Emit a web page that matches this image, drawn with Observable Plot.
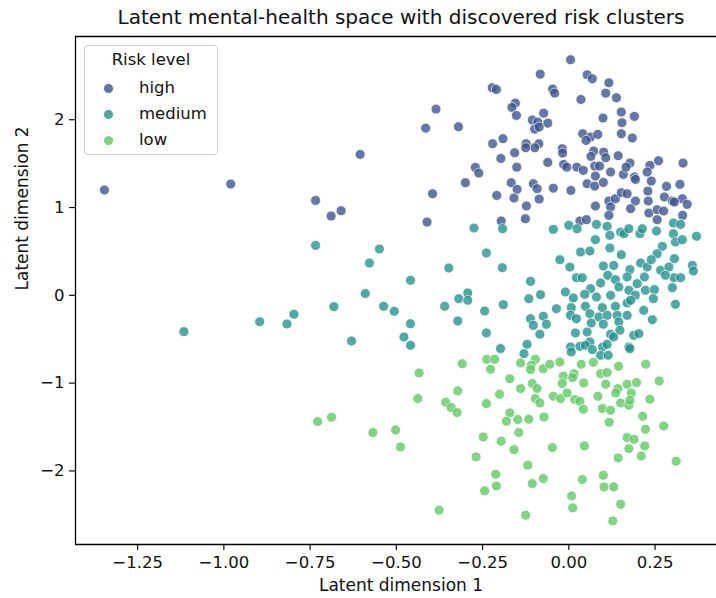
<!DOCTYPE html>
<html>
<head>
<meta charset="utf-8">
<script src="https://cdn.jsdelivr.net/npm/d3@7"></script>
<script src="https://cdn.jsdelivr.net/npm/@observablehq/plot@0.6"></script>
<style>
  html, body { margin: 0; padding: 0; background: white; overflow: hidden; }
  body { width: 716px; height: 598px; position: relative; font-family: "DejaVu Sans", sans-serif; color: #000; }
  #title { position: relative; height: 30px; }
  #title span { position: absolute; left: 401px; transform: translateX(-50%); white-space: nowrap; font-size: 20px; line-height: 28px; top: 3px; color: #111; }
  #legend { position: absolute; left: 84px; top: 45px; width: 132px; height: 108px; border: 1px solid #d0d0d0; border-radius: 4px; background: rgba(255,255,255,0.8); }
  #legend .ttl { position: absolute; left: 0; width: 132px; text-align: center; top: 4px; font-size: 16.5px; line-height: 20px; color: #111; }
  #legend .item { position: absolute; left: 0; height: 20px; width: 132px; }
  #legend .dot { position: absolute; left: 18px; top: 5px; width: 9px; height: 9px; border-radius: 50%; border: 0.8px solid white; opacity: 0.8; }
  #legend .lab { position: absolute; left: 54px; top: 0; font-size: 16.5px; line-height: 20px; white-space: nowrap; color: #111; }
</style>
</head>
<body>
<div id="title"><span>Latent mental-health space with discovered risk clusters</span></div>
<div id="chart"></div>
<div id="legend"></div>
<script>
const riskLevels = ["high", "medium", "low"];
const riskColors = ["#3b528b", "#21918c", "#5ec962"];
const xTicks = [-1.25, -1.0, -0.75, -0.5, -0.25, 0, 0.25];
const yTicks = [-2, -1, 0, 1, 2];
const xDomain = [-1.430, 0.428];
const yDomain = [-2.838, 2.948];
const xLabel = "Latent dimension 1";
const yLabel = "Latent dimension 2";

const highPoints = [
[-1.346,1.199],[-0.980,1.267],[-0.734,1.081],[-0.689,0.903],[-0.660,0.964],[-0.605,1.605],
[0.005,2.683],[-0.083,2.519],[0.053,2.512],[0.068,2.467],[0.116,2.421],[-0.222,2.364],[-0.210,2.345],[-0.047,2.349],[-0.041,2.303],[0.107,2.303],[0.138,2.250],[0.035,2.231],[-0.385,2.121],[-0.155,2.189],[-0.165,2.140],[-0.152,2.049],[0.152,2.087],[0.190,2.038],[0.154,1.966],[0.099,2.019],[-0.073,2.075],[-0.106,1.996],[-0.090,1.973],[-0.061,1.961],[-0.099,1.893],[-0.086,1.916],[-0.415,1.904],[-0.320,1.920],[0.040,1.841],[0.063,1.802],[0.084,1.833],[0.050,1.764],[0.152,1.841],[0.184,1.791],[-0.191,1.784],[-0.221,1.727],[-0.124,1.727],[-0.087,1.727],[-0.099,1.681],[-0.125,1.681],[-0.019,1.670],[-0.018,1.620],[0.072,1.643],[0.101,1.631],[-0.197,1.559],[-0.157,1.624],[0.064,1.582],[0.107,1.567],[0.143,1.590],[-0.061,1.514],[-0.015,1.491],[-0.006,1.460],[0.023,1.460],[0.042,1.423],[-0.151,1.460],[-0.271,1.457],[-0.261,1.392],[0.075,1.472],[0.089,1.472],[0.121,1.404],[0.158,1.377],[0.177,1.506],[0.166,1.460],[0.190,1.347],[0.193,1.320],[0.077,1.358],[0.053,1.271],[0.075,1.244],[0.100,1.286],[0.235,1.480],[0.260,1.533],[0.227,1.404],[0.239,1.301],[0.331,1.506],[0.283,1.241],[0.322,1.264],[-0.300,1.283],[-0.167,1.283],[-0.103,1.271],[-0.092,1.215],[-0.150,1.207],[-0.045,1.221],[0.006,1.195],[-0.395,1.157],[-0.209,1.138],[-0.159,1.108],[-0.086,1.096],[-0.123,1.017],[0.077,1.017],[0.116,1.074],[0.135,1.100],[0.152,1.169],[0.169,1.157],[0.193,1.074],[0.229,1.187],[0.230,1.074],[0.277,1.119],[0.300,1.074],[0.329,1.100],[0.343,1.036],[0.121,1.005],
[-0.411,0.834],[-0.196,0.846],[-0.126,0.873],[0.179,0.987],[0.232,0.937],[0.256,0.975],[0.275,0.960],[0.306,1.062],[0.330,0.911],[0.116,0.911],[0.032,0.846],[0.051,0.862],[0.256,0.862]
];

const mediumPoints = [
[-0.734,0.569],[-0.549,0.527],[-0.578,0.368],[-0.590,0.020],[-0.681,-0.129],[-0.797,-0.216],[-0.817,-0.326],[-0.896,-0.300],[-1.116,-0.414],[-0.537,-0.125],[-0.506,-0.182],[-0.630,-0.520],
[-0.275,0.766],[-0.192,0.759],[-0.045,0.751],[0.000,0.797],[0.024,0.759],[0.080,0.808],[0.111,0.785],[0.119,0.683],[0.150,0.721],[0.160,0.702],[0.174,0.759],[0.206,0.702],[0.213,0.759],[0.254,0.732],[0.303,0.823],[0.303,0.702],[0.309,0.607],[0.329,0.634],[0.370,0.672],[0.324,0.808],[0.077,0.634],[-0.239,0.482],[0.034,0.493],[0.061,0.504],[0.119,0.539],[0.152,0.463],[0.271,0.558],[0.256,0.474],[-0.026,0.406],[0.306,0.418],[0.358,0.341],[0.361,0.277],[-0.348,0.311],[-0.193,0.315],[0.003,0.322],[0.100,0.334],[0.130,0.341],[0.177,0.293],[0.208,0.368],[0.227,0.322],[0.239,0.406],[0.266,0.285],[0.290,0.322],[0.305,0.201],[0.324,0.201],[0.280,0.228],[-0.459,0.171],[-0.111,0.159],[0.022,0.201],[0.039,0.201],[0.113,0.228],[0.135,0.178],[0.169,0.209],[0.198,0.133],[0.219,0.209],[0.092,0.140],[0.145,0.095],[0.063,0.076],[-0.293,0.027],[-0.319,-0.038],[-0.293,-0.057],[-0.082,0.008],[-0.010,0.038],[0.046,0.011],[0.080,-0.019],[0.121,0.000],[0.174,0.057],[0.193,0.000],[0.222,0.057],[0.248,0.065],[0.245,-0.038],[0.300,0.088],[-0.116,-0.038],[0.013,-0.030],[-0.360,-0.125],[-0.244,-0.179],[-0.190,-0.106],[-0.036,-0.152],[0.007,-0.140],[0.048,-0.125],[0.097,-0.140],[0.135,-0.125],[0.169,-0.087],[0.179,-0.057],[0.217,-0.171],[0.309,-0.102],[-0.322,-0.292],[-0.459,-0.323],[-0.111,-0.266],[-0.103,-0.342],[-0.074,-0.239],[-0.065,-0.330],[0.005,-0.228],[0.022,-0.266],[0.061,-0.209],[0.065,-0.315],[0.087,-0.247],[0.111,-0.228],[0.140,-0.228],[0.169,-0.228],[0.100,-0.330],[0.145,-0.304],[0.242,-0.277],[-0.239,-0.429],[-0.478,-0.474],[-0.459,-0.569],[-0.084,-0.444],[0.019,-0.429],[0.053,-0.418],[0.121,-0.444],[0.148,-0.398],[0.188,-0.455],[0.203,-0.436],[-0.198,-0.607],[-0.121,-0.558],[0.005,-0.588],[0.032,-0.581],[0.061,-0.531],[0.098,-0.588],[0.111,-0.558],[0.130,-0.474],[0.174,-0.588],[0.092,-0.683],[0.114,-0.683],[-0.130,-0.664],[0.007,-0.645],[0.048,-0.569],[0.068,-0.618],[0.177,-0.607]
];

const lowPoints = [
[-0.728,-1.438],[-0.688,-1.389],[-0.568,-1.563],[-0.502,-1.533],[-0.488,-1.727],
[-0.434,-0.884],[-0.309,-0.778],[-0.238,-0.729],[-0.215,-0.729],[-0.227,-0.842],[-0.140,-0.770],[-0.097,-0.729],[-0.109,-0.797],[-0.111,-0.846],[-0.074,-0.835],[-0.055,-0.785],[-0.026,-0.759],[0.036,-0.785],[0.071,-0.763],[0.144,-0.808],[0.223,-0.785],[0.092,-0.892],[0.111,-0.880],[-0.016,-0.922],[0.015,-0.892],[0.011,-0.937],[-0.171,-0.949],[-0.019,-1.005],[0.043,-0.998],[0.107,-1.013],[0.142,-1.062],[0.169,-1.013],[0.196,-0.994],[0.262,-0.975],[0.136,-1.112],[0.181,-1.112],[-0.106,-1.005],[-0.092,-1.062],[-0.140,-1.062],[-0.322,-1.089],[-0.438,-1.176],[-0.357,-1.218],[-0.341,-1.278],[-0.324,-1.335],[-0.201,-1.127],[-0.239,-1.233],[-0.045,-1.150],[-0.024,-1.176],[-0.005,-1.112],[0.017,-1.187],[0.032,-1.207],[0.084,-1.150],[-0.097,-1.176],[-0.084,-1.226],[0.042,-1.298],[0.097,-1.290],[0.121,-1.309],[0.150,-1.226],[0.174,-1.252],[0.177,-1.195],[0.235,-1.184],[-0.171,-1.339],[-0.181,-1.434],[-0.148,-1.415],[-0.116,-1.411],[-0.072,-1.385],[-0.145,-1.563],[0.117,-1.446],[0.214,-1.377],[0.222,-1.525],[0.275,-1.488],[-0.248,-1.613],[-0.196,-1.662],[-0.159,-1.757],[-0.269,-1.840],[-0.048,-1.734],[0.045,-1.715],[0.169,-1.620],[0.189,-1.639],[0.174,-1.745],[0.220,-1.715],[0.210,-1.829],[0.143,-1.852],[0.311,-1.890],[-0.119,-1.935],[-0.212,-2.038],[-0.210,-2.171],[-0.244,-2.227],[-0.106,-2.144],[-0.074,-2.087],[0.039,-2.098],[0.100,-2.049],[0.102,-2.182],[0.130,-2.182],[0.008,-2.285],[0.011,-2.421],[0.150,-2.379],[0.127,-2.569],[-0.376,-2.447],[-0.125,-2.504]
];

const groups = [highPoints, mediumPoints, lowPoints];
const data = groups.flatMap((pts, i) => pts.map(([x, y]) => ({x, y, risk: riskLevels[i]})));

const chart = Plot.plot({
  width: 716,
  height: 568,
  marginLeft: 75,
  marginRight: 0,
  marginTop: 6,
  marginBottom: 54,
  style: {fontFamily: "DejaVu Sans", fontSize: "16.5px", color: "#111", background: "white", overflow: "visible"},
  x: {domain: xDomain},
  y: {domain: yDomain},
  color: {domain: riskLevels, range: riskColors},
  marks: [
    Plot.dot(data, {x: "x", y: "y", fill: "risk", r: 5, stroke: "white", strokeWidth: 0.8, opacity: 0.78}),
    Plot.ruleX([xDomain[0]], {stroke: "#000", strokeWidth: 1.3}),
    Plot.ruleY(yDomain, {stroke: "#000", strokeWidth: 1.3}),
    Plot.axisX({ticks: xTicks, tickFormat: d3.format(".2f"), tickSize: 6, tickPadding: 6, label: null, strokeWidth: 1.2}),
    Plot.axisY({ticks: yTicks, tickFormat: d3.format("d"), tickSize: 6, tickPadding: 5, label: null, strokeWidth: 1.2}),
    Plot.text([xLabel], {text: d => d, frameAnchor: "bottom", dx: 5, dy: 46, fontSize: 17}),
    Plot.text([yLabel], {text: d => d, frameAnchor: "left", dx: -53, rotate: -90, fontSize: 17})
  ]
});
document.getElementById("chart").appendChild(chart);

const legend = document.getElementById("legend");
const ttl = document.createElement("div");
ttl.className = "ttl";
ttl.textContent = "Risk level";
legend.appendChild(ttl);
riskLevels.forEach((lvl, i) => {
  const item = document.createElement("div");
  item.className = "item";
  item.style.top = (32 + i * 26) + "px";
  const dot = document.createElement("div");
  dot.className = "dot";
  dot.style.background = riskColors[i];
  const lab = document.createElement("div");
  lab.className = "lab";
  lab.textContent = lvl;
  item.appendChild(dot);
  item.appendChild(lab);
  legend.appendChild(item);
});
</script>
</body>
</html>
